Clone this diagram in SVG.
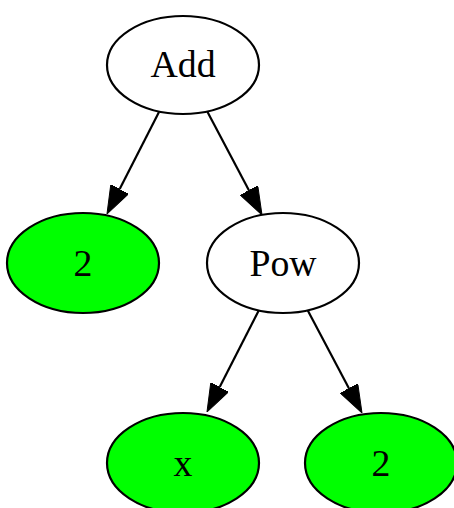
<svg xmlns="http://www.w3.org/2000/svg" width="454" height="508" viewBox="0 0 454 508">
  <style>
    .node ellipse { stroke: #000; stroke-width: 2.2; }
    .op ellipse { fill: #fff; }
    .leaf ellipse { fill: #00ff00; }
    .node text { font-family: "Liberation Serif", "Times New Roman", serif; font-size: 37.8px; fill: #000; text-anchor: middle; }
    .edge { stroke: #000; stroke-width: 2.2; fill: none; marker-end: url(#arrow); }
  </style>
  <defs>
    <marker id="arrow" viewBox="0 0 28 20" refX="0" refY="10" markerWidth="28" markerHeight="20" markerUnits="userSpaceOnUse" orient="auto">
      <path d="M0,0 L28,10 L0,20 z" fill="#000" stroke="#000" stroke-width="1"/>
    </marker>
  </defs>
  <rect width="454" height="508" fill="#fff"/>

  <!-- connectors: each line stops at the back of its arrowhead -->
  <g id="edges">
    <line class="edge" x1="159" y1="112" x2="119.7" y2="189.1"/>
    <line class="edge" x1="207" y1="111" x2="248.9" y2="190.2"/>
    <line class="edge" x1="259" y1="310" x2="219.7" y2="387.1"/>
    <line class="edge" x1="307" y1="309" x2="348.9" y2="388.2"/>
  </g>

  <g id="add" class="node op">
    <ellipse cx="183" cy="65" rx="76" ry="49"/>
    <text x="183" y="77">Add</text>
  </g>
  <g id="two_a" class="node leaf">
    <ellipse cx="83" cy="263" rx="76" ry="50"/>
    <text x="83" y="276">2</text>
  </g>
  <g id="pow" class="node op">
    <ellipse cx="283" cy="263" rx="76" ry="50"/>
    <text x="283" y="276">Pow</text>
  </g>
  <g id="x" class="node leaf">
    <ellipse cx="183" cy="463" rx="76" ry="50"/>
    <text x="183" y="476">x</text>
  </g>
  <g id="two_b" class="node leaf">
    <ellipse cx="381" cy="463" rx="76" ry="50"/>
    <text x="381" y="476">2</text>
  </g>
</svg>
